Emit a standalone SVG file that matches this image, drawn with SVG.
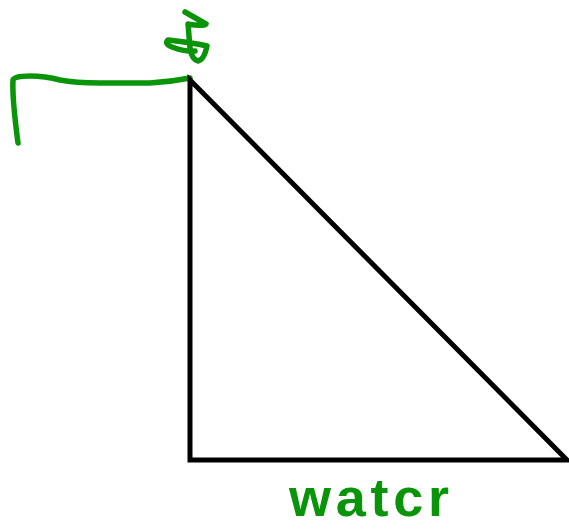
<svg xmlns="http://www.w3.org/2000/svg" width="569" height="531" viewBox="0 0 569 531">
<style>
.g{fill:none;stroke:#0a940a;stroke-width:5.5;stroke-linecap:round;stroke-linejoin:round}
.k{fill:none;stroke:#000;stroke-width:5;stroke-linejoin:miter}
.t{fill:#0a940a;font-family:"Liberation Sans",Arial,sans-serif;font-size:54px;font-weight:bold}
</style>
<rect width="569" height="531" fill="#fff"/>
<g id="connectors">
<path class="g" d="M18,143 C15,120 12,98 13,80 Q14,76 30,76 Q45,76 60,80 Q75,83 100,83 L150,83 Q170,82 190,78"/>
</g>
<g id="triangle">
<path class="k" d="M190,80 L190,460 L567,460 Z"/>
</g>
<g id="figure">
<path class="g" d="M185,12 L206,24 Q204,27 188,24 L190,48 Q192,60 198,61 Q204,60 207,46 Q195,43 168,40 Q164,44 172,47 Q185,52 195,51"/>
</g>
<g id="label">
<text class="t" x="289" y="516" textLength="160" lengthAdjust="spacing">watcr</text>
</g>
</svg>
